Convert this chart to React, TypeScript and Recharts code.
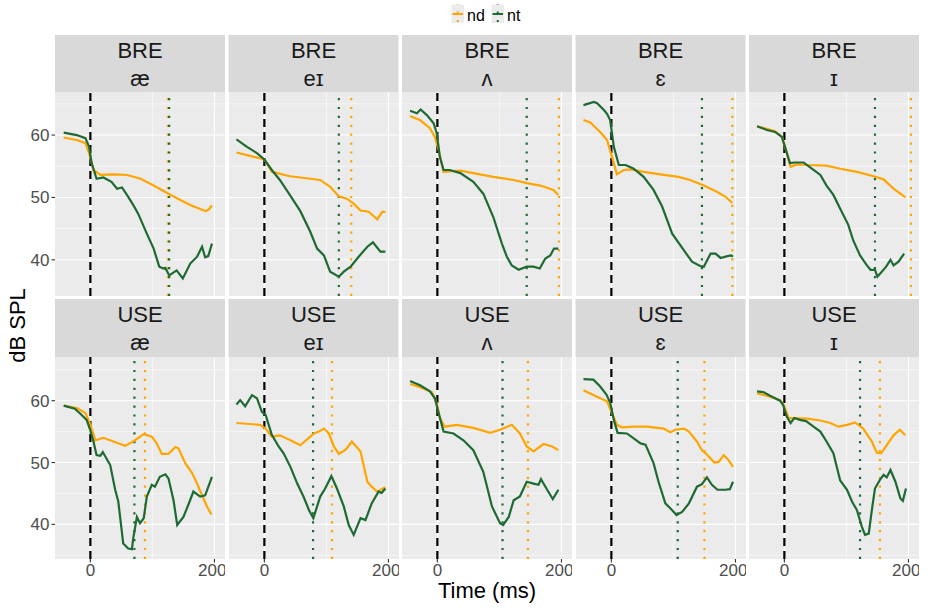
import React from "react";
import { LineChart, Line, XAxis, YAxis, CartesianGrid, ReferenceLine } from "recharts";

// Facet layout: two accents (rows) by five vowels (columns)
const ACCENTS = ["BRE", "USE"];
const VOWELS = ["æ", "eɪ", "ʌ", "ɛ", "ɪ"];
const SERIES = ["nd", "nt"];

const X_TICKS = [0, 200];
const Y_TICKS = [40, 50, 60];
const Y_MINOR = [35, 45, 55, 65];
const X_MINOR = [100];

// Curves: [time (ms), dB SPL]
const breAeNd = [[-43,59.6],[-22,59.2],[-8,58.7],[-2,57.1],[5,54.4],[16,53.6],[38,53.7],[59,53.6],[81,53.0],[102,51.9],[126,50.6],[145,49.6],[161,48.8],[178,48.1],[186,47.8],[191,48.1],[196,48.7]];
const breAeNt = [[-43,60.4],[-22,60.0],[-8,59.5],[-2,58.1],[2,55.5],[10,53.0],[21,53.2],[34,52.5],[43,51.4],[51,51.6],[61,50.1],[69,48.8],[77,47.4],[91,44.2],[102,41.8],[111,38.9],[118,38.6],[121,38.7],[127,37.5],[139,38.3],[149,37.0],[161,39.4],[172,40.5],[180,42.1],[185,40.4],[190,40.6],[196,42.6]];
const breEiNd = [[-45,57.2],[-17,56.5],[0,56.1],[12,54.1],[21,53.9],[41,53.4],[58,53.2],[90,52.8],[106,51.7],[120,50.2],[133,49.8],[144,49.0],[155,47.9],[168,47.7],[182,46.5],[190,47.7],[195,47.7]];
const breEiNt = [[-45,59.3],[-28,58.1],[-12,57.1],[0,56.1],[12,54.4],[25,52.8],[41,50.4],[58,47.8],[74,44.5],[85,41.8],[96,40.7],[106,38.1],[120,37.3],[128,38.1],[139,38.9],[152,40.5],[166,42.1],[175,42.8],[187,41.3],[195,41.3]];
const breVNd = [[-44,63.0],[-28,62.4],[-12,61.1],[-4,59.7],[2,57.6],[10,54.1],[37,54.3],[58,53.9],[90,53.3],[123,52.8],[144,52.3],[166,51.9],[187,51.2],[195,50.4]];
const breVNt = [[-44,63.9],[-33,63.5],[-27,64.1],[-17,63.2],[-6,61.9],[-1,60.3],[4,56.5],[10,54.4],[20,54.4],[37,53.9],[58,52.5],[74,50.6],[90,46.9],[104,42.6],[112,40.5],[120,39.1],[131,38.4],[144,38.9],[155,38.9],[165,38.6],[174,40.2],[182,40.7],[188,41.8],[195,41.8]];
const breEhNd = [[-45,62.4],[-34,62.0],[-18,60.5],[-7,59.2],[1,56.5],[9,53.7],[20,54.4],[31,54.5],[52,54.1],[79,53.7],[108,53.3],[127,52.8],[149,51.9],[170,50.9],[184,50.1],[195,49.1]];
const breEhNt = [[-45,64.8],[-28,65.3],[-23,65.1],[-12,64.0],[-7,63.4],[-2,62.4],[4,58.1],[12,55.2],[23,55.2],[36,54.6],[52,53.3],[68,51.2],[82,48.5],[98,44.2],[117,41.5],[130,39.7],[143,39.0],[149,38.9],[160,41.0],[168,41.0],[176,40.3],[187,40.6],[193,40.7],[196,40.5]];
const breIhNd = [[-44,61.4],[-28,61.0],[-15,60.6],[-4,59.7],[1,58.1],[10,54.9],[20,55.3],[36,55.2],[68,55.1],[90,54.6],[117,54.1],[144,53.4],[160,52.9],[176,51.4],[195,50.0]];
const breIhNt = [[-44,61.4],[-28,60.8],[-15,60.5],[-4,59.7],[1,58.1],[9,55.5],[17,55.6],[31,55.6],[47,54.4],[58,53.6],[68,51.9],[79,50.4],[90,48.2],[103,45.6],[111,43.1],[122,40.7],[133,39.1],[139,38.4],[146,38.4],[150,37.3],[157,38.1],[164,38.9],[171,40.0],[176,39.1],[184,39.7],[193,41.0]];

const useAeNd = [[-43,59.2],[-22,58.8],[-8,58.0],[-1,56.4],[8,53.6],[21,54.0],[37,53.4],[56,52.7],[69,53.4],[86,54.6],[99,54.2],[107,53.1],[115,51.4],[126,51.4],[137,52.5],[142,52.3],[153,49.9],[164,48.3],[172,46.6],[180,44.7],[188,42.9],[195,41.6]];
const useAeNt = [[-43,59.2],[-25,58.7],[-14,57.7],[-6,56.9],[-1,55.5],[5,53.4],[10,51.2],[16,51.1],[20,51.7],[32,49.6],[40,45.6],[45,43.7],[53,36.9],[61,36.1],[67,36.0],[69,37.7],[75,41.2],[80,40.2],[86,41.0],[91,44.5],[99,46.4],[104,46.1],[112,47.7],[121,48.1],[126,47.4],[134,43.9],[140,39.9],[150,41.2],[160,43.7],[166,45.3],[177,44.5],[185,44.7],[196,47.7]];
const useEiNd = [[-45,56.4],[-7,56.1],[2,55.5],[12,54.2],[25,54.4],[42,53.6],[58,52.8],[74,54.2],[80,54.7],[88,55.0],[96,55.5],[104,54.7],[112,52.6],[120,51.4],[131,52.1],[141,53.4],[155,51.8],[166,46.9],[173,46.1],[182,45.3],[189,45.7],[195,46.0]];
const useEiNt = [[-45,59.4],[-39,60.1],[-31,59.1],[-20,60.9],[-12,60.4],[-4,58.2],[2,57.7],[12,54.5],[23,52.6],[31,51.5],[42,49.3],[53,46.6],[63,44.5],[72,42.3],[79,41.0],[90,44.5],[98,45.8],[108,47.8],[117,45.8],[128,42.9],[136,39.9],[144,38.3],[155,41.0],[163,40.7],[173,43.4],[184,45.3],[189,45.1],[195,45.8]];
const useVNd = [[-44,62.7],[-28,62.2],[-9,61.4],[-1,59.6],[4,57.2],[12,55.8],[31,56.1],[58,55.6],[85,54.8],[101,55.3],[120,56.1],[133,54.7],[144,52.6],[155,51.8],[171,53.0],[185,52.6],[195,52.0]];
const useVNt = [[-44,63.2],[-28,62.5],[-12,61.5],[-4,60.4],[2,58.0],[10,55.0],[26,54.7],[42,53.6],[58,52.0],[74,48.5],[88,42.9],[101,40.2],[106,39.9],[115,41.2],[123,43.9],[133,44.5],[144,46.9],[155,46.6],[163,46.4],[167,47.3],[177,45.6],[186,44.1],[195,45.6]];
const useEhNd = [[-45,61.7],[-18,60.4],[-7,59.9],[1,58.0],[9,56.1],[17,55.7],[36,55.8],[58,55.8],[84,55.5],[95,54.9],[103,55.3],[117,55.5],[125,55.0],[138,53.4],[146,52.0],[154,51.3],[166,50.0],[173,50.1],[181,51.2],[189,50.4],[196,49.3]];
const useEhNt = [[-45,63.5],[-29,63.4],[-18,62.3],[-8,61.0],[-2,59.7],[4,56.9],[10,54.8],[25,54.7],[36,53.9],[47,53.1],[55,52.9],[68,49.9],[76,46.9],[87,43.4],[98,42.3],[105,41.5],[114,42.0],[125,43.4],[138,46.1],[146,46.5],[154,47.6],[162,46.4],[171,45.6],[184,45.6],[191,45.7],[196,46.9]];
const useIhNd = [[-44,61.2],[-28,60.8],[-7,60.1],[-1,59.3],[7,57.2],[15,57.2],[36,57.1],[58,56.8],[74,56.4],[87,55.8],[101,56.1],[114,56.5],[127,55.5],[141,53.4],[149,51.6],[156,51.5],[165,52.8],[176,54.4],[186,55.3],[195,54.4]];
const useIhNt = [[-44,61.5],[-34,61.4],[-23,60.8],[-7,60.0],[-2,59.3],[4,57.4],[10,56.4],[16,57.2],[25,56.9],[35,56.7],[47,55.8],[58,55.0],[68,53.4],[79,51.5],[90,47.1],[101,45.6],[109,43.7],[117,42.3],[125,39.6],[130,38.3],[136,38.5],[141,42.3],[146,45.8],[154,47.2],[160,48.0],[165,47.6],[171,48.8],[179,46.9],[187,44.2],[191,43.8],[196,45.8]];

const ND_CURVES = [
  [breAeNd, breEiNd, breVNd, breEhNd, breIhNd],
  [useAeNd, useEiNd, useVNd, useEhNd, useIhNd],
];
const NT_CURVES = [
  [breAeNt, breEiNt, breVNt, breEhNt, breIhNt],
  [useAeNt, useEiNt, useVNt, useEhNt, useIhNt],
];

// Mean offset times (ms), drawn as dotted verticals
const ND_OFFSET = [
  [125, 140, 196, 195, 204],
  [88, 109, 146, 150, 154],
];
const NT_OFFSET = [
  [127, 120, 144, 146, 146],
  [71, 78.5, 105, 107, 122],
];

const ORANGE = "#FFA500";
const GREEN = "#1d6a33";
const FONT = "'Liberation Sans', Arial, Helvetica, sans-serif";
const COLORS = { nd: ORANGE, nt: GREEN };

// Geometry
const COL_LEFT = [55, 228.5, 402, 575.5, 749];
const PANEL_W = 170;
const STRIP_TOP = [35, 299];
const STRIP_H = [57, 58];
const PANEL_TOP = [92, 357];
const PANEL_H = [204, 202];
const X_DOMAIN: [number, number] = [-57, 217];
const Y_DOMAIN: [[number, number], [number, number]] = [[34.2, 66.9], [34.4, 67.07]];
const Y_AXIS_W = 55;
const X_AXIS_H = 30;

const toPts = (pairs: number[][]) => pairs.map(([t, v]) => ({ t, v }));

function Panel({ row, col }: { row: number; col: number }) {
  const isLeft = col === 0;
  const isBottom = row === 1;
  const width = PANEL_W + (isLeft ? Y_AXIS_W : 0);
  const height = PANEL_H[row] + (isBottom ? X_AXIS_H : 0);
  const left = isLeft ? COL_LEFT[0] - Y_AXIS_W : COL_LEFT[col];
  return (
    <div style={{ position: "absolute", left, top: PANEL_TOP[row] }}>
      <LineChart width={width} height={height} margin={{ top: 0, right: 0, bottom: 0, left: 0 }}>
        <CartesianGrid
          fill="#ebebeb"
          stroke="#ffffff"
          strokeWidth={0.55}
          horizontalValues={Y_MINOR}
          verticalValues={X_MINOR}
        />
        <CartesianGrid
          stroke="#ffffff"
          strokeWidth={1.1}
          horizontalValues={Y_TICKS}
          verticalValues={X_TICKS}
        />
        <XAxis
          type="number"
          dataKey="t"
          domain={X_DOMAIN}
          ticks={X_TICKS}
          allowDataOverflow
          hide={!isBottom}
          height={X_AXIS_H}
          axisLine={false}
          tickLine={{ stroke: "#333333", strokeWidth: 1.1 }}
          tickSize={3.5}
          tickMargin={1}
          tick={{ fill: "#4d4d4d", fontSize: 17, fontFamily: FONT }}
        />
        <YAxis
          type="number"
          domain={Y_DOMAIN[row]}
          ticks={Y_TICKS}
          allowDataOverflow
          hide={!isLeft}
          width={Y_AXIS_W}
          axisLine={false}
          tickLine={{ stroke: "#333333", strokeWidth: 1.1 }}
          tickSize={3.5}
          tickMargin={2}
          tick={{ fill: "#4d4d4d", fontSize: 17, fontFamily: FONT }}
        />
        <ReferenceLine x={0} stroke="#000000" strokeWidth={2.2} strokeDasharray="8 5" />
        <ReferenceLine x={ND_OFFSET[row][col]} stroke={ORANGE} strokeWidth={2.2} strokeDasharray="2.2 6.7" />
        <ReferenceLine x={NT_OFFSET[row][col]} stroke={GREEN} strokeWidth={2.2} strokeDasharray="2.2 6.7" />
        <Line
          data={toPts(ND_CURVES[row][col])}
          dataKey="v"
          name="nd"
          type="linear"
          stroke={ORANGE}
          strokeWidth={2.2}
          dot={false}
          activeDot={false}
          isAnimationActive={false}
        />
        <Line
          data={toPts(NT_CURVES[row][col])}
          dataKey="v"
          name="nt"
          type="linear"
          stroke={GREEN}
          strokeWidth={2.2}
          dot={false}
          activeDot={false}
          isAnimationActive={false}
        />
      </LineChart>
    </div>
  );
}

function Decorations() {
  return (
    <svg width={929} height={608} style={{ position: "absolute", left: 0, top: 0 }} fontFamily={FONT}>
      {ACCENTS.map((acc, r) =>
        VOWELS.map((v, c) => (
          <g key={`${r}-${c}`}>
            <rect x={COL_LEFT[c]} y={STRIP_TOP[r]} width={PANEL_W} height={STRIP_H[r]} fill="#d9d9d9" />
            <text x={COL_LEFT[c] + PANEL_W / 2} y={STRIP_TOP[r] + 22.7} textAnchor="middle" fontSize={22} fill="#1a1a1a">
              {acc}
            </text>
            <text x={COL_LEFT[c] + PANEL_W / 2} y={STRIP_TOP[r] + 51} textAnchor="middle" fontSize={22} fill="#1a1a1a">
              {v}
            </text>
          </g>
        ))
      )}
      <text x={487} y={598} textAnchor="middle" fontSize={22} fill="#000000">
        Time (ms)
      </text>
      <text transform="translate(25, 325.5) rotate(-90)" textAnchor="middle" fontSize={22} fill="#000000">
        dB SPL
      </text>
      {SERIES.map((s, i) => {
        const kx = 451.5 + i * 40;
        return (
          <g key={s}>
            <rect x={kx} y={4.5} width={12.5} height={18.5} fill="#ebebeb" />
            <line x1={kx + 1} x2={kx + 11.5} y1={14} y2={14} stroke={COLORS[s as "nd" | "nt"]} strokeWidth={2} />
            <line x1={kx + 6.25} x2={kx + 6.25} y1={4.5} y2={23} stroke={COLORS[s as "nd" | "nt"]} strokeWidth={2} strokeDasharray="2 6.5" strokeDashoffset={-7} />
            <text x={kx + 15.5} y={20.5} fontSize={16} fill="#000000">
              {s}
            </text>
          </g>
        );
      })}
    </svg>
  );
}

export default function App() {
  return (
    <div style={{ position: "absolute", left: 0, top: 0, width: 929, height: 608, background: "#ffffff", fontFamily: FONT }}>
      <Decorations />
      {ACCENTS.map((_, r) => VOWELS.map((__, c) => <Panel key={`${r}-${c}`} row={r} col={c} />))}
    </div>
  );
}
